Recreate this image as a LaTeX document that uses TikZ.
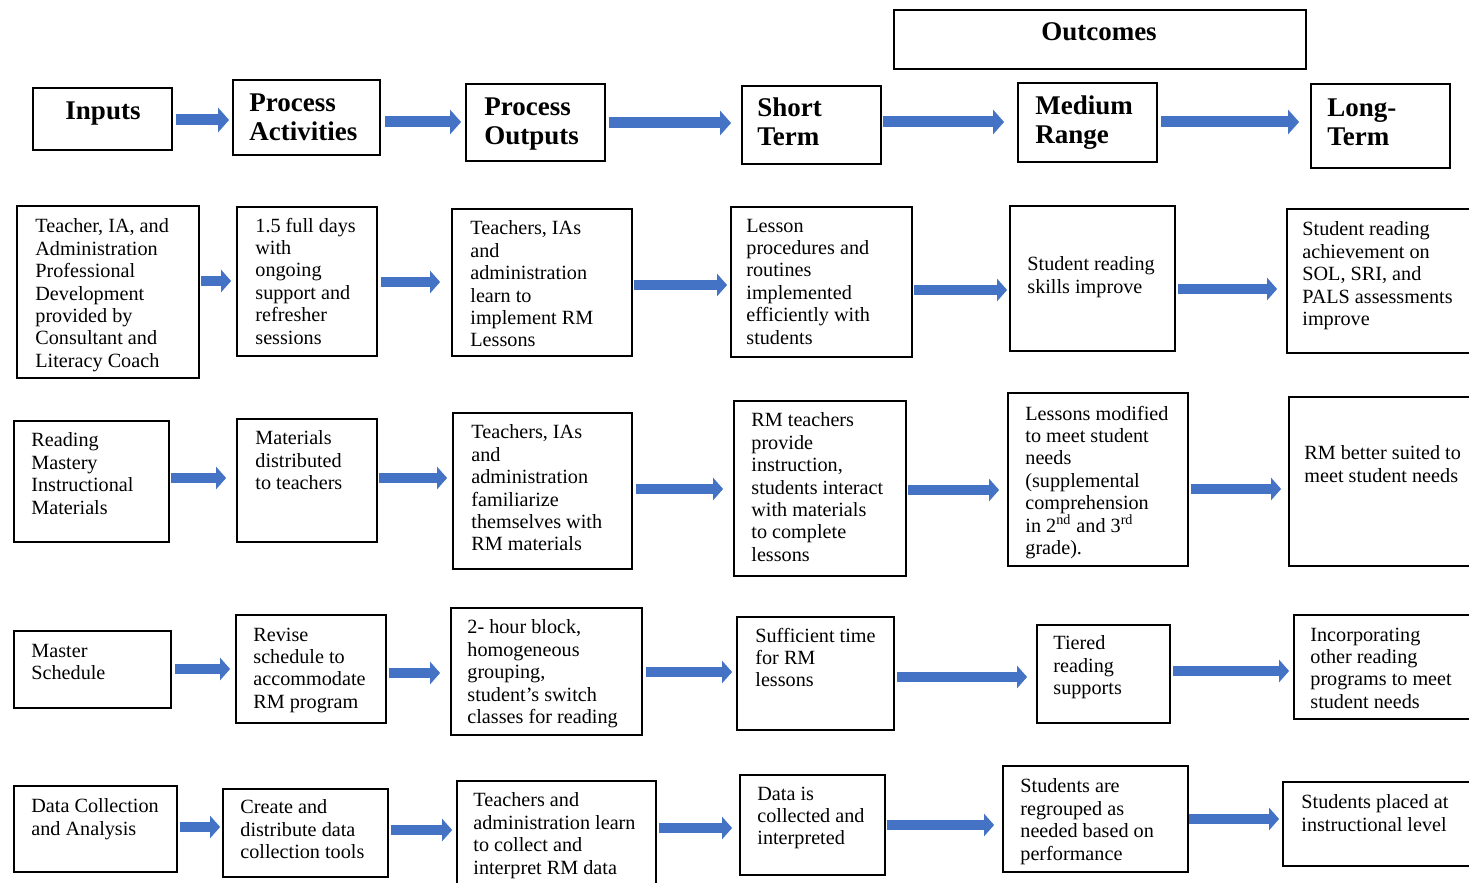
\documentclass[tikz,border=0pt]{standalone}
\usepackage{fontspec}
\setmainfont{Liberation Serif}
\usetikzlibrary{arrows.meta,fit}
\definecolor{flowblue}{RGB}{68,114,196}
\tikzset{
  box/.style={draw=black, line width=0.9pt, inner sep=0pt},
  txt/.style={anchor=north west, yshift=5.8pt, inner sep=0pt, align=left, font=\fontsize{10.1}{11.2}\selectfont},
  headtxt/.style={anchor=north west, yshift=8.5pt, inner sep=0pt, align=left, font=\fontsize{13.5}{14.6}\selectfont\bfseries},
  headone/.style={anchor=base, inner sep=0pt, font=\fontsize{13.5}{14.6}\selectfont\bfseries},
  flow/.style={draw=flowblue, line width=5pt, -{Triangle[length=5pt,width=11pt]}},
  bigflow/.style={draw=flowblue, line width=5.5pt, -{Triangle[length=5.5pt,width=12pt]}}
}
\def\flowarrow[#1](#2)(#3)(#4)(#5,#6){\draw[#1, shorten <=#5pt, shorten >=#6pt] (#2.east |- 0,#4) -- (#3.west |- 0,#4);}

\begin{document}
\begin{tikzpicture}[x=0.5pt,y=-0.5pt]
		%%%%% START %%%%%
		\useasboundingbox (0,0) rectangle (1469,883);
		\fill[white] (0,0) rectangle (1469,883);
		\clip (0,0) rectangle (1469,883);
		
		% header row
		\node[box, fit={(894,10) (1306,69)}] (hOutc) {};
		\node[headone] (hOutct) at (1099,41) {Outcomes};
		
		\node[box, fit={(33,88) (172,150)}] (hIn) {};
		\node[headone] (hInt) at (103,120) {Inputs};
		\node[box, fit={(233,80) (380,155)}] (hAct) {};
		\node[headtxt] (hActt) at (249,110) {Process\\Activities};
		\node[box, fit={(466,84) (605,161)}] (hOut) {};
		\node[headtxt] (hOutt) at (484,114) {Process\\Outputs};
		\node[box, fit={(742,86) (881,164)}] (hShort) {};
		\node[headtxt] (hShortt) at (757,114) {Short\\Term};
		\node[box, fit={(1018,83) (1157,162)}] (hMed) {};
		\node[headtxt] (hMedt) at (1035,112) {Medium\\Range};
		\node[box, fit={(1311,84) (1450,168)}] (hLong) {};
		\node[headtxt] (hLongt) at (1327,115) {Long-\\Term};
		
		\flowarrow[bigflow](hIn)(hAct)(120)(1.5,1.5)
		\flowarrow[bigflow](hAct)(hOut)(122)(2,2)
		\flowarrow[bigflow](hOut)(hShort)(123)(1.5,5)
		\flowarrow[bigflow](hShort)(hMed)(122)(0.5,6.5)
		\flowarrow[bigflow](hMed)(hLong)(122)(1.5,5.5)
		
		% professional development
		\node[box, fit={(17,206) (199,378)}] (in1) {};
		\node[txt] (in1t) at (35,230) {Teacher, IA, and\\Administration\\Professional\\Development\\provided by\\Consultant and\\Literacy Coach};
		\node[box, fit={(237,207) (377,356)}] (act1) {};
		\node[txt] (act1t) at (255,229) {1.5 full days\\with\\ongoing\\support and\\refresher\\sessions};
		\node[box, fit={(452,209) (632,356)}] (out1) {};
		\node[txt] (out1t) at (470,232) {Teachers, IAs\\and\\administration\\learn to\\implement RM\\Lessons};
		\node[box, fit={(731,207) (912,357)}] (st1) {};
		\node[txt] (st1t) at (746,230) {Lesson\\procedures and\\routines\\implemented\\efficiently with\\students};
		\node[box, fit={(1010,206) (1175,351)}] (mr1) {};
		\node[txt] (mr1t) at (1027,268) {Student reading\\skills improve};
		\node[box, fit={(1287,209) (1476,353)}] (lt1) {};
		\node[txt] (lt1t) at (1302,233) {Student reading\\achievement on\\SOL, SRI, and\\PALS assessments\\improve};
		
		\flowarrow[flow](in1)(act1)(281)(0.5,2.5)
		\flowarrow[flow](act1)(out1)(282)(1.5,5.5)
		\flowarrow[flow](out1)(st1)(285)(0.5,1.5)
		\flowarrow[flow](st1)(mr1)(290)(0.5,1)
		\flowarrow[flow](mr1)(lt1)(289)(1,4.5)
		
		% materials
		\node[box, fit={(14,421) (169,542)}] (in2) {};
		\node[txt] (in2t) at (31,444) {Reading\\Mastery\\Instructional\\Materials};
		\node[box, fit={(237,419) (377,542)}] (act2) {};
		\node[txt] (act2t) at (255,442) {Materials\\distributed\\to teachers};
		\node[box, fit={(453,413) (632,569)}] (out2) {};
		\node[txt] (out2t) at (471,436) {Teachers, IAs\\and\\administration\\familiarize\\themselves with\\RM materials};
		\node[box, fit={(734,401) (906,576)}] (st2) {};
		\node[txt] (st2t) at (751,424) {RM teachers\\provide\\instruction,\\students interact\\with materials\\to complete\\lessons};
		\node[box, fit={(1008,393) (1188,566)}] (mr2) {};
		\node[txt] (mr2t) at (1025,417) {Lessons modified\\to meet student\\needs\\(supplemental\\comprehension\\in 2\textsuperscript{nd} and 3\textsuperscript{rd}\\grade).};
		\node[box, fit={(1289,397) (1476,566)}] (lt2) {};
		\node[txt] (lt2t) at (1304,457) {RM better suited to\\meet student needs};
		
		\flowarrow[flow](in2)(act2)(478)(0.5,5)
		\flowarrow[flow](act2)(out2)(478)(0.5,2.5)
		\flowarrow[flow](out2)(st2)(489)(1.5,5)
		\flowarrow[flow](st2)(mr2)(490)(0.5,4)
		\flowarrow[flow](mr2)(lt2)(489)(1,3.5)
		
		% schedule
		\node[box, fit={(14,631) (171,708)}] (in3) {};
		\node[txt] (in3t) at (31,655) {Master\\Schedule};
		\node[box, fit={(236,615) (386,723)}] (act3) {};
		\node[txt] (act3t) at (253,639) {Revise\\schedule to\\accommodate\\RM program};
		\node[box, fit={(451,608) (642,735)}] (out3) {};
		\node[txt] (out3t) at (467,631) {2- hour block,\\homogeneous\\grouping,\\student’s switch\\classes for reading};
		\node[box, fit={(737,617) (894,730)}] (st3) {};
		\node[txt] (st3t) at (755,639) {Sufficient time\\for RM\\lessons};
		\node[box, fit={(1037,625) (1170,723)}] (mr3) {};
		\node[txt] (mr3t) at (1053,647) {Tiered\\reading\\supports};
		\node[box, fit={(1294,615) (1476,719)}] (lt3) {};
		\node[txt] (lt3t) at (1310,639) {Incorporating\\other reading\\programs to meet\\student needs};
		
		\flowarrow[flow](in3)(act3)(669)(1.5,2.5)
		\flowarrow[flow](act3)(out3)(673)(1,5)
		\flowarrow[flow](out3)(st3)(672)(1.5,2)
		\flowarrow[flow](st3)(mr3)(677)(1,4.5)
		\flowarrow[flow](mr3)(lt3)(671)(1,2)
		
		% data
		\node[box, fit={(14,786) (177,872)}] (in4) {};
		\node[txt] (in4t) at (31,810) {Data Collection\\and Analysis};
		\node[box, fit={(223,789) (388,877)}] (act4) {};
		\node[txt] (act4t) at (240,811) {Create and\\distribute data\\collection tools};
		\node[box, fit={(457,781) (656,892)}] (out4) {};
		\node[txt] (out4t) at (473,804) {Teachers and\\administration learn\\to collect and\\interpret RM data};
		\node[box, fit={(740,775) (885,875)}] (st4) {};
		\node[txt] (st4t) at (757,798) {Data is\\collected and\\interpreted};
		\node[box, fit={(1003,766) (1188,872)}] (mr4) {};
		\node[txt] (mr4t) at (1020,790) {Students are\\regrouped as\\needed based on\\performance};
		\node[box, fit={(1283,782) (1476,866)}] (lt4) {};
		\node[txt] (lt4t) at (1301,806) {Students placed at\\instructional level};
		
		\flowarrow[flow](in4)(act4)(827)(1,1)
		\flowarrow[flow](act4)(out4)(830)(1,2)
		\flowarrow[flow](out4)(st4)(828)(1,3.5)
		\flowarrow[flow](st4)(mr4)(825)(0.5,4)
		\flowarrow[flow](mr4)(lt4)(819)(0,1.5)
		
		%%%%% END %%%%%
\end{tikzpicture}
\end{document}
